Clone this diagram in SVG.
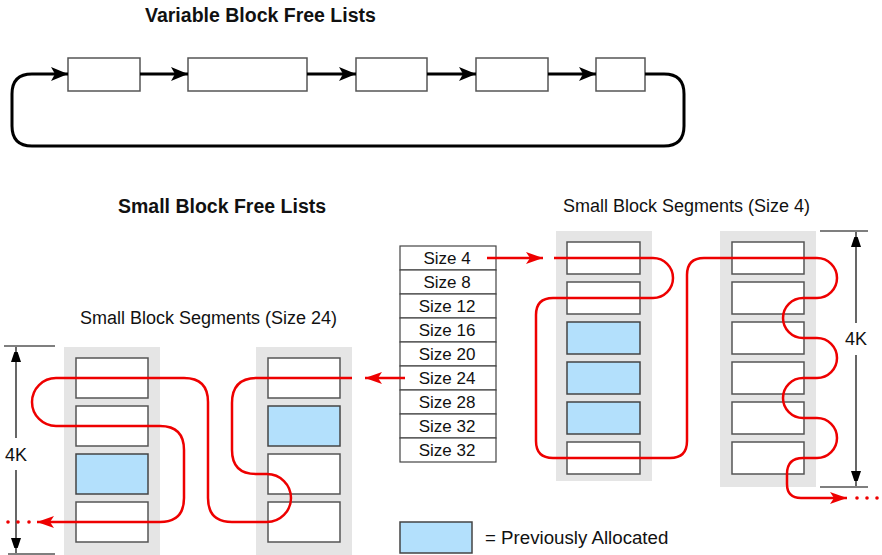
<svg xmlns="http://www.w3.org/2000/svg" width="882" height="555" viewBox="0 0 882 555">
  <style>
    .title { font-family: "Liberation Sans", Arial, sans-serif; font-size: 19.5px; font-weight: bold; fill: #111; }
    .label { font-family: "Liberation Sans", Arial, sans-serif; font-size: 18px; fill: #111; }
    .cell-text { font-family: "Liberation Sans", Arial, sans-serif; font-size: 17px; fill: #111; text-anchor: middle; }
    .box { fill: #fff; stroke: #555; stroke-width: 1.5; }
    .alloc { fill: #b3e0fc; stroke: #444; stroke-width: 1.5; }
    .cell { fill: #fff; stroke: #444; stroke-width: 1.2; }
    .seg-bg { fill: #e5e5e5; }
    .link { fill: none; stroke: #000; stroke-width: 3; }
    .chain { fill: none; stroke: #ee0000; stroke-width: 2.5; stroke-linejoin: round; }
    .dim { fill: none; stroke: #000; stroke-width: 1.2; }
    .dot { fill: #ee0000; }
  </style>
  <defs>
    <marker id="blackHead" markerUnits="userSpaceOnUse" markerWidth="18" markerHeight="14" refX="17" refY="7" orient="auto">
      <path d="M0,0 L17,7 L0,14 L4,7 z" fill="#000"/>
    </marker>
    <marker id="redHead" markerUnits="userSpaceOnUse" markerWidth="18" markerHeight="12" refX="17" refY="6" orient="auto">
      <path d="M0,0 L17,6 L0,12 L4,6 z" fill="#ee0000"/>
    </marker>
    <marker id="dimHead" markerUnits="userSpaceOnUse" markerWidth="10" markerHeight="16" refX="15" refY="5" orient="auto">
      <path d="M0,0 L15,5 L0,10 z" fill="#000"/>
    </marker>
  </defs>

  <!-- Headings -->
  <text class="title" x="145" y="22">Variable Block Free Lists</text>
  <text class="title" x="118" y="213">Small Block Free Lists</text>
  <text class="label" x="563" y="212">Small Block Segments (Size 4)</text>
  <text class="label" x="80" y="324">Small Block Segments (Size 24)</text>

  <!-- Variable block free list -->
  <g id="var-block-1"><rect class="box" x="68" y="58" width="72" height="33"/></g>
  <g id="var-block-2"><rect class="box" x="188" y="58" width="119" height="33"/></g>
  <g id="var-block-3"><rect class="box" x="356" y="58" width="71" height="33"/></g>
  <g id="var-block-4"><rect class="box" x="476" y="58" width="72" height="33"/></g>
  <g id="var-block-5"><rect class="box" x="596" y="58" width="49" height="33"/></g>

  <!-- Size class table -->
  <g id="size-table">
    <rect class="cell" x="400" y="246" width="96" height="24"/><text class="cell-text" x="447" y="264">Size 4</text>
    <rect class="cell" x="400" y="270" width="96" height="24"/><text class="cell-text" x="447" y="288">Size 8</text>
    <rect class="cell" x="400" y="294" width="96" height="24"/><text class="cell-text" x="447" y="312">Size 12</text>
    <rect class="cell" x="400" y="318" width="96" height="24"/><text class="cell-text" x="447" y="336">Size 16</text>
    <rect class="cell" x="400" y="342" width="96" height="24"/><text class="cell-text" x="447" y="360">Size 20</text>
    <rect class="cell" x="400" y="366" width="96" height="24"/><text class="cell-text" x="447" y="384">Size 24</text>
    <rect class="cell" x="400" y="390" width="96" height="24"/><text class="cell-text" x="447" y="408">Size 28</text>
    <rect class="cell" x="400" y="414" width="96" height="24"/><text class="cell-text" x="447" y="432">Size 32</text>
    <rect class="cell" x="400" y="438" width="96" height="24"/><text class="cell-text" x="447" y="456">Size 32</text>
  </g>

  <!-- Size 4 segments -->
  <g id="seg4-a">
    <rect class="seg-bg" x="556" y="231" width="96" height="250"/>
    <rect class="box" x="567" y="242" width="73" height="32"/>
    <rect class="box" x="567" y="282" width="73" height="32"/>
    <rect class="alloc" x="567" y="322" width="73" height="32"/>
    <rect class="alloc" x="567" y="362" width="73" height="32"/>
    <rect class="alloc" x="567" y="402" width="73" height="32"/>
    <rect class="box" x="567" y="442" width="73" height="32"/>
  </g>
  <g id="seg4-b">
    <rect class="seg-bg" x="720" y="231" width="96" height="256"/>
    <rect class="box" x="732" y="242" width="72" height="32"/>
    <rect class="box" x="732" y="282" width="72" height="32"/>
    <rect class="box" x="732" y="322" width="72" height="32"/>
    <rect class="box" x="732" y="362" width="72" height="32"/>
    <rect class="box" x="732" y="402" width="72" height="32"/>
    <rect class="box" x="732" y="442" width="72" height="32"/>
  </g>

  <!-- Size 24 segments -->
  <g id="seg24-a">
    <rect class="seg-bg" x="64" y="347" width="96" height="208"/>
    <rect class="box" x="76" y="358" width="72" height="40"/>
    <rect class="box" x="76" y="406" width="72" height="40"/>
    <rect class="alloc" x="76" y="454" width="72" height="40"/>
    <rect class="box" x="76" y="502" width="72" height="40"/>
  </g>
  <g id="seg24-b">
    <rect class="seg-bg" x="256" y="347" width="96" height="208"/>
    <rect class="box" x="268" y="358" width="72" height="40"/>
    <rect class="alloc" x="268" y="406" width="72" height="40"/>
    <rect class="box" x="268" y="454" width="72" height="40"/>
    <rect class="box" x="268" y="502" width="72" height="40"/>
  </g>

  <!-- Legend -->
  <g id="legend">
    <rect class="alloc" x="400" y="522" width="72" height="31"/>
    <text class="label" x="485" y="544" style="font-size:18.7px">= Previously Allocated</text>
  </g>

  <!-- Size dimensions -->
  <g id="dim-right">
    <line class="dim" x1="820" y1="231" x2="868" y2="231"/>
    <line class="dim" x1="820" y1="487" x2="868" y2="487"/>
    <line class="dim" x1="856" y1="323" x2="856" y2="232" marker-end="url(#dimHead)"/>
    <line class="dim" x1="856" y1="355" x2="856" y2="486" marker-end="url(#dimHead)"/>
    <text class="label" x="856" y="345" text-anchor="middle">4K</text>
  </g>
  <g id="dim-left">
    <line class="dim" x1="4" y1="346" x2="55" y2="346"/>
    <line class="dim" x1="8" y1="554" x2="55" y2="554"/>
    <line class="dim" x1="16" y1="438" x2="16" y2="347" marker-end="url(#dimHead)"/>
    <line class="dim" x1="16" y1="470" x2="16" y2="553" marker-end="url(#dimHead)"/>
    <text class="label" x="16" y="461" text-anchor="middle">4K</text>
  </g>

  <!-- Connectors -->
  <g id="connectors">
    <line class="link" x1="140" y1="74" x2="188" y2="74" marker-end="url(#blackHead)"/>
    <line class="link" x1="307" y1="74" x2="356" y2="74" marker-end="url(#blackHead)"/>
    <line class="link" x1="427" y1="74" x2="476" y2="74" marker-end="url(#blackHead)"/>
    <line class="link" x1="548" y1="74" x2="596" y2="74" marker-end="url(#blackHead)"/>
    <path class="link" d="M645,74 H664 Q684,74 684,94 V126 Q684,146 664,146 H32 Q12,146 12,126 V94 Q12,74 32,74 H68" marker-end="url(#blackHead)"/>

    <!-- Size 4 chain -->
    <line class="chain" x1="487" y1="258" x2="543" y2="258" marker-end="url(#redHead)"/>
    <path class="chain" d="M554,258 H653 A20,20 0 0 1 653,298 H553 Q536,298 536,315 V441 Q536,458 553,458 H670 Q687,458 687,441 V275 Q687,258 704,258 H817 A20,20 0 0 1 817,298 H803 A20,20 0 0 0 803,338 H817 A20,20 0 0 1 817,378 H803 A20,20 0 0 0 803,418 H817 A20,20 0 0 1 817,458 H803 Q787,458 787,474 V484 Q787,498 801,498 H847" marker-end="url(#redHead)"/>
    <circle class="dot" cx="857" cy="498" r="1.8"/>
    <circle class="dot" cx="867" cy="498" r="1.8"/>
    <circle class="dot" cx="877" cy="498" r="1.8"/>

    <!-- Size 24 chain -->
    <line class="chain" x1="405" y1="378" x2="365" y2="378" marker-end="url(#redHead)"/>
    <path class="chain" d="M352,378 H257 Q232,378 232,403 V450 Q232,474 256,474 H267 A24,24 0 0 1 267,522 H232 Q208,522 208,498 V402 Q208,378 184,378 H56 A24,24 0 0 0 56,426 H160 Q184,426 184,450 V498 Q184,522 160,522 H37" marker-end="url(#redHead)"/>
    <circle class="dot" cx="8" cy="522" r="1.8"/>
    <circle class="dot" cx="18" cy="522" r="1.8"/>
    <circle class="dot" cx="29" cy="522" r="1.8"/>
  </g>
</svg>
